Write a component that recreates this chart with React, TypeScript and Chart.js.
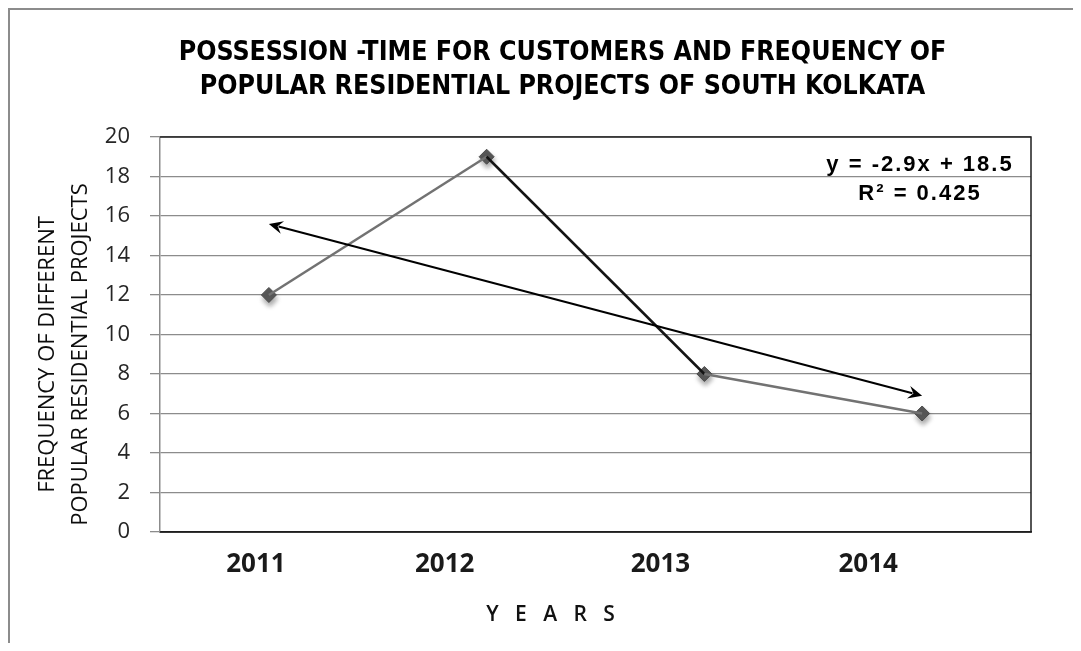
import { useEffect, useRef } from 'react';
import { Chart, registerables } from 'chart.js';

Chart.register(...registerables);

// ---- data ----
const YEARS = ['2011', '2012', '2013', '2014'];
const FREQUENCY = [12, 19, 8, 6];
const Y_MIN = 0;
const Y_MAX = 20;
const Y_STEP = 2;

// linear trend of FREQUENCY against year number (1..4)
const TREND_SLOPE = -2.9;
const TREND_INTERCEPT = 18.5;
const TREND_R2 = 0.425;

const TITLE_LINES = [
  'POSSESSION -TIME FOR CUSTOMERS AND FREQUENCY OF',
  'POPULAR RESIDENTIAL PROJECTS OF SOUTH KOLKATA',
];
const Y_TITLE_LINES = ['FREQUENCY OF DIFFERENT', 'POPULAR RESIDENTIAL PROJECTS'];
const X_TITLE = 'Y   E   A   R   S';

// ---- layout / style ----
const YEAR_LABEL_NUDGE = [-13, -42, -44, -54];
const FRAME = '#1f1f1f';
const GRID = '#8c8c8c';
const LINE_GREY = '#727272';
const LINE_DARK = '#141414';
const MARKER = '#595959';
const SANS = "'Open Sans', 'DejaVu Sans', sans-serif";

function arrowHead(ctx: CanvasRenderingContext2D, x: number, y: number, angle: number) {
  ctx.save();
  ctx.translate(x, y);
  ctx.rotate(angle);
  ctx.beginPath();
  ctx.moveTo(0, 0);
  ctx.lineTo(-14, -6.5);
  ctx.lineTo(-9, 0);
  ctx.lineTo(-14, 6.5);
  ctx.closePath();
  ctx.fill();
  ctx.restore();
}

const framePlugin = {
  id: 'plotFrame',
  beforeDatasetsDraw(chart: any) {
    const { ctx, chartArea: a } = chart;
    ctx.save();
    ctx.strokeStyle = FRAME;
    ctx.lineWidth = 1.5;
    ctx.beginPath();
    ctx.moveTo(a.left, a.top);
    ctx.lineTo(a.right, a.top);
    ctx.lineTo(a.right, a.bottom);
    ctx.lineTo(a.left, a.bottom);
    ctx.stroke();
    ctx.restore();
  },
};

const markerShadowPlugin = {
  id: 'markerShadow',
  beforeDatasetDraw(chart: any, args: any) {
    if (args.index !== 1) return;
    const ctx = chart.ctx;
    ctx.save();
    ctx.shadowColor = 'rgba(0,0,0,0.35)';
    ctx.shadowBlur = 5;
    ctx.shadowOffsetX = 1;
    ctx.shadowOffsetY = 4;
  },
  afterDatasetDraw(chart: any, args: any) {
    if (args.index !== 1) return;
    chart.ctx.restore();
  },
};

const trendPlugin = {
  id: 'trendArrow',
  afterDatasetDraw(chart: any, args: any) {
    if (args.index !== 0) return;
    const { ctx } = chart;
    const xs = chart.scales.x;
    const ys = chart.scales.y;
    const n = YEARS.length;
    const x0 = xs.getPixelForValue(0);
    const y0 = ys.getPixelForValue(TREND_SLOPE * 1 + TREND_INTERCEPT);
    const x1 = xs.getPixelForValue(n - 1);
    const y1 = ys.getPixelForValue(TREND_SLOPE * n + TREND_INTERCEPT);
    const ang = Math.atan2(y1 - y0, x1 - x0);
    const back = 10;
    ctx.save();
    ctx.strokeStyle = '#000';
    ctx.fillStyle = '#000';
    ctx.lineWidth = 2;
    ctx.beginPath();
    ctx.moveTo(x0 + Math.cos(ang) * back, y0 + Math.sin(ang) * back);
    ctx.lineTo(x1 - Math.cos(ang) * back, y1 - Math.sin(ang) * back);
    ctx.stroke();
    arrowHead(ctx, x1, y1, ang);
    arrowHead(ctx, x0, y0, ang + Math.PI);
    ctx.restore();
  },
};

const textPlugin = {
  id: 'axisTexts',
  afterDraw(chart: any) {
    const { ctx, chartArea: a } = chart;
    const xs = chart.scales.x;
    ctx.save();
    ctx.textAlign = 'center';
    ctx.textBaseline = 'middle';

    // category labels
    ctx.fillStyle = '#1a1a1a';
    ctx.font = `bold 26px ${SANS}`;
    YEARS.forEach((label, i) => {
      ctx.fillText(label, xs.getPixelForValue(i) + YEAR_LABEL_NUDGE[i], a.bottom + 33);
    });

    // x-axis title
    ctx.font = `600 21px ${SANS}`;
    ctx.fillStyle = '#111';
    ctx.fillText(X_TITLE, (a.left + a.right) / 2 - 45, a.bottom + 83);

    // y-axis title
    ctx.font = `22px ${SANS}`;
    ctx.fillStyle = '#0d0d0d';
    ctx.save();
    ctx.translate(38, (a.top + a.bottom) / 2 + 20);
    ctx.rotate(-Math.PI / 2);
    Y_TITLE_LINES.forEach((line, i) => ctx.fillText(line, 0, i * 33));
    ctx.restore();

    // trend equation
    ctx.fillStyle = '#000';
    ctx.font = "bold 22px 'Liberation Sans', Arial, sans-serif";
    (ctx as any).letterSpacing = '2px';
    const cx = a.right - 111;
    ctx.fillText(`y = ${TREND_SLOPE}x + ${TREND_INTERCEPT}`, cx, a.top + 28);
    ctx.fillText(`R\u00B2 = ${TREND_R2}`, cx, a.top + 57);
    (ctx as any).letterSpacing = '0px';
    ctx.restore();
  },
};

export default function App() {
  const canvasRef = useRef<HTMLCanvasElement | null>(null);

  useEffect(() => {
    if (!canvasRef.current) return;
    const chart = new Chart(canvasRef.current, {
      type: 'line',
      data: {
        labels: YEARS,
        datasets: [
          {
            data: FREQUENCY,
            borderWidth: 2.5,
            borderColor: LINE_GREY,
            pointRadius: 0,
            tension: 0,
            fill: false,
            segment: {
              borderColor: (c: any) => (c.p0DataIndex === 1 ? LINE_DARK : LINE_GREY),
            },
          },
          {
            data: FREQUENCY,
            showLine: false,
            pointStyle: 'rectRot',
            pointRadius: 7.5,
            pointBackgroundColor: MARKER,
            pointBorderColor: '#4a4a4a',
            pointBorderWidth: 1,
          },
        ],
      },
      options: {
        responsive: true,
        maintainAspectRatio: false,
        animation: false,
        events: [],
        layout: { padding: { left: 84, right: 42, top: 0, bottom: 0 } },
        plugins: {
          legend: { display: false },
          tooltip: { enabled: false },
          title: {
            display: true,
            text: TITLE_LINES,
            color: '#000',
            font: {
              family: "'Liberation Sans Narrow', 'DejaVu Sans Condensed', sans-serif",
              size: 26.5,
              weight: 'bold',
              lineHeight: 1.283,
            },
            padding: { top: 26, bottom: 33 },
          },
        },
        scales: {
          x: {
            type: 'category',
            offset: true,
            grid: { display: false, drawTicks: false },
            border: { display: true, color: FRAME, width: 1.5 },
            ticks: { display: false },
            afterFit: (s: any) => {
              s.height = 111;
            },
          },
          y: {
            min: Y_MIN,
            max: Y_MAX,
            ticks: {
              stepSize: Y_STEP,
              color: '#262626',
              padding: 20,
              font: { family: SANS, size: 22 },
            },
            grid: { color: GRID, lineWidth: 1.3, tickLength: 10, tickColor: GRID },
            border: { color: GRID, width: 1.5 },
            afterFit: (s: any) => {
              s.width = 66;
            },
          },
        },
      },
      plugins: [framePlugin, markerShadowPlugin, trendPlugin, textPlugin],
    } as any);
    return () => chart.destroy();
  }, []);

  return (
    <div
      style={{
        borderLeft: '2px solid #8c8c8c',
        borderTop: '2px solid #8c8c8c',
        width: 1063,
        height: 633,
        position: 'relative',
        background: '#fff',
      }}
    >
      <canvas ref={canvasRef} />
    </div>
  );
}
